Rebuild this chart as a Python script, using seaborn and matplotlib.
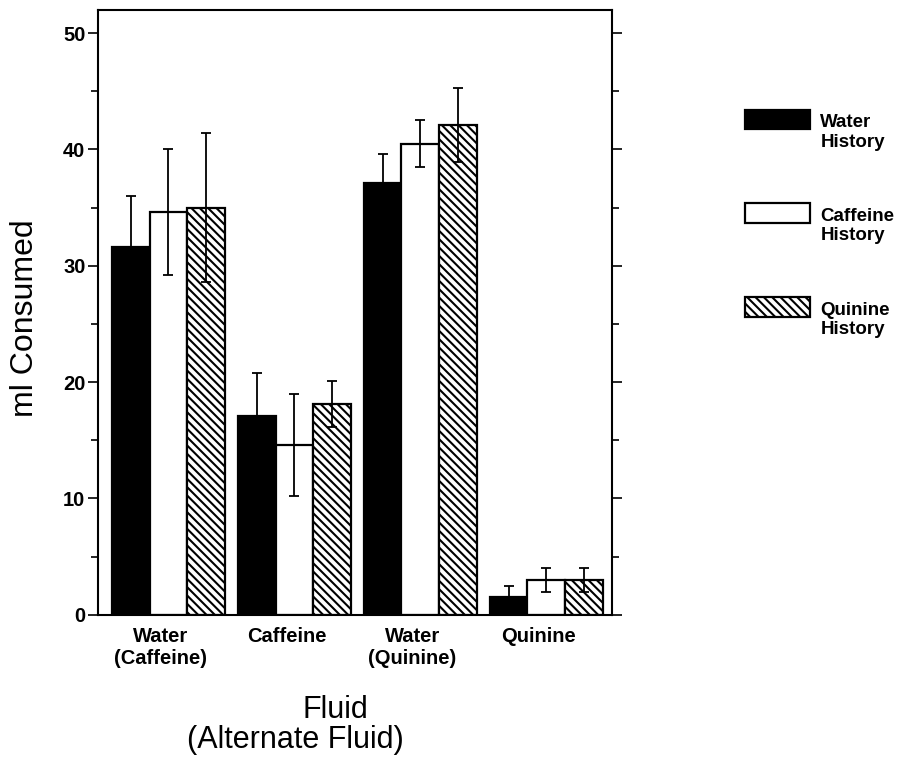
import pandas as pd
import seaborn as sns
import matplotlib.pyplot as plt
import matplotlib.transforms as mtransforms
from matplotlib.ticker import MultipleLocator

# values (mean ml consumed, +/- SEM)
fluids = ['Water\n(Caffeine)', 'Caffeine', 'Water\n(Quinine)', 'Quinine']
histories = ['Water\nHistory', 'Caffeine\nHistory', 'Quinine\nHistory']
water_hist = [31.6, 17.1, 37.1, 1.5]
water_err = [4.4, 3.7, 2.5, 1.0]
caffeine_hist = [34.6, 14.6, 40.5, 3.0]
caffeine_err = [5.4, 4.4, 2.0, 1.0]
quinine_hist = [35.0, 18.1, 42.1, 3.0]
quinine_err = [6.4, 2.0, 3.2, 1.0]

df = pd.DataFrame({
    'Fluid': fluids * 3,
    'History': [h for h in histories for _ in fluids],
    'ml': water_hist + caffeine_hist + quinine_hist,
})
errs = [water_err, caffeine_err, quinine_err]

sns.set_style('ticks')
plt.rcParams['font.family'] = ['Liberation Sans', 'DejaVu Sans']
plt.rcParams['hatch.linewidth'] = 1.5
plt.rcParams['text.color'] = 'black'
plt.rcParams['axes.labelcolor'] = 'black'
plt.rcParams['axes.edgecolor'] = 'black'
plt.rcParams['xtick.color'] = 'black'
plt.rcParams['ytick.color'] = 'black'

fig = plt.figure(figsize=(9.03, 7.59), dpi=100)
ax = fig.add_axes([0.1085, 0.19, 0.569, 0.797])

sns.barplot(data=df, x='Fluid', y='ml', hue='History', order=fluids, hue_order=histories,
            palette=['black', 'white', 'white'], edgecolor='black', linewidth=1.6,
            width=0.9, gap=0, errorbar=None, legend=False, ax=ax)

bar_conts = list(ax.containers)
hatches = ['', '', '\\\\\\\\']
for cont, hatch, err in zip(bar_conts, hatches, errs):
    xs = []
    ys = []
    for p in cont.patches:
        p.set_hatch(hatch)
        xs.append(p.get_x() + p.get_width() / 2)
        ys.append(p.get_height())
    ax.errorbar(xs, ys, yerr=err, fmt='none', ecolor='black', elinewidth=1.3,
                capsize=3.7, capthick=1.3, zorder=5)

ax.set_xlim(-0.56, 3.52)
ax.set_ylim(0, 52)
ax.yaxis.set_major_locator(MultipleLocator(10))
ax.yaxis.set_minor_locator(MultipleLocator(5))
ax.tick_params(axis='y', which='both', right=True, direction='out', width=1.2)
ax.tick_params(axis='y', which='major', length=7, labelsize=14.5, pad=2)
ax.tick_params(axis='y', which='minor', length=5)
ax.tick_params(axis='x', length=0, labelsize=14.5, pad=9)
shift = mtransforms.ScaledTranslation(-0.08, 0, fig.dpi_scale_trans)
for lbl in ax.get_xticklabels():
    lbl.set_fontweight('bold')
    lbl.set_transform(lbl.get_transform() + shift)
for lbl in ax.get_yticklabels():
    lbl.set_fontweight('bold')
for s in ax.spines.values():
    s.set_linewidth(1.5)
    s.set_visible(True)

ax.set_ylabel('ml Consumed', fontsize=23)
ax.yaxis.set_label_coords(-0.113, 0.49)
ax.set_xlabel('')
ax.text(0.463, -0.171, 'Fluid', transform=ax.transAxes, fontsize=22,
        ha='center', va='baseline')
ax.text(0.385, -0.22, '(Alternate Fluid)', transform=ax.transAxes, fontsize=22,
        ha='center', va='baseline')

handles = [cont.patches[0] for cont in bar_conts]
leg = fig.legend(handles, histories, loc='upper left', bbox_to_anchor=(0.825, 0.867),
                 frameon=False, prop={'weight': 'bold', 'size': 13.5},
                 handlelength=3.47, handleheight=1.23, handletextpad=0.55,
                 labelspacing=3.05, borderpad=0, borderaxespad=0)
# labels in the original hang down from the top of each swatch
for t in leg.get_texts():
    t.set_position((0, -13))

plt.savefig('out.png', dpi=100)
